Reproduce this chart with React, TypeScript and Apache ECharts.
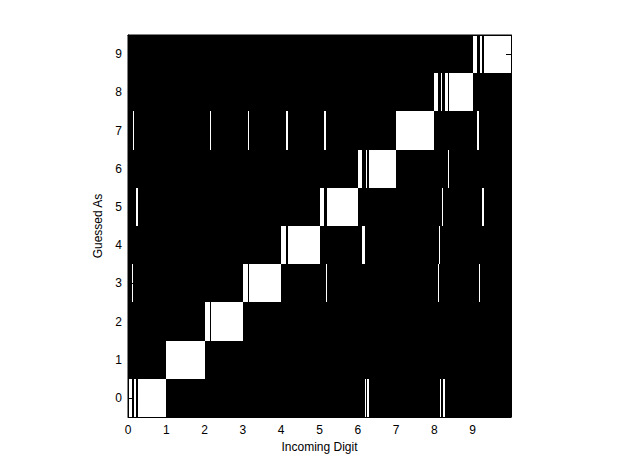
import React, { useEffect, useRef } from "react";
import * as echarts from "echarts";

// Guessed-as categories (rows) and x tick labels
const guessCategories = ["0", "1", "2", "3", "4", "5", "6", "7", "8", "9"];
const xTickLabels = ["0", "1", "2", "3", "4", "5", "6", "7", "8", "9"];
const samplesPerDigit = 38;

// Misclassified samples per incoming digit: [sample index within digit, guessed digit]
const miss0 = [[4, 3], [5, 7], [8, 5], [9, 5]];
const miss1: number[][] = [];
const miss2 = [[5, 7]];
const miss3 = [[5, 7]];
const miss4 = [[5, 7], [6, 7]];
const miss5 = [[4, 7], [5, 7], [6, 3]];
const miss6 = [[4, 4], [5, 4], [6, 4], [7, 0], [9, 0], [10, 0]];
const miss7: number[][] = [];
const miss8 = [[4, 3], [5, 4], [6, 0], [8, 5], [9, 0], [10, 0], [13, 6]];
const miss9 = [[4, 7], [5, 7], [6, 3], [9, 5], [10, 5]];
const misclassified = [miss0, miss1, miss2, miss3, miss4, miss5, miss6, miss7, miss8, miss9];

function buildCells(): number[][] {
  const cells: number[][] = [];
  for (let d = 0; d < 10; d++) {
    for (let k = 0; k < samplesPerDigit; k++) {
      let guess = d;
      for (const m of misclassified[d]) if (m[0] === k) guess = m[1];
      cells.push([d + k / samplesPerDigit, guess]);
    }
  }
  return cells;
}

const FONT = "'Liberation Sans', Arial, Helvetica, sans-serif";

export default function App() {
  const ref = useRef<HTMLDivElement>(null);
  useEffect(() => {
    if (!ref.current) return;
    const chart = echarts.init(ref.current, undefined, { renderer: "svg" });
    const cells = buildCells();
    const labelStyle = { color: "#000", fontSize: 12, fontFamily: FONT };
    const tick = { show: true, inside: true, length: 5, lineStyle: { color: "#000", width: 1 } };
    const line = { show: true, onZero: false, lineStyle: { color: "#000", width: 1 } };
    chart.setOption({
      animation: false,
      backgroundColor: "#fff",
      grid: {
        left: 128,
        top: 35,
        width: 383,
        height: 382,
        show: true,
        backgroundColor: "#000",
        borderColor: "#000",
        borderWidth: 1,
      },
      xAxis: [
        {
          type: "value",
          position: "bottom",
          min: 0,
          max: 10,
          interval: 1,
          z: 10,
          axisLine: line,
          axisTick: tick,
          splitLine: { show: false },
          axisLabel: {
            ...labelStyle,
            margin: 7,
            formatter: (v: number) => (v >= 10 ? "" : xTickLabels[v]),
          },
          name: "Incoming Digit",
          nameLocation: "middle",
          nameGap: 22,
          nameTextStyle: { ...labelStyle },
        },
        {
          type: "value",
          position: "top",
          min: 0,
          max: 10,
          interval: 1,
          z: 10,
          axisLine: line,
          axisTick: tick,
          splitLine: { show: false },
          axisLabel: { show: false },
        },
      ],
      yAxis: [
        {
          type: "category",
          data: guessCategories,
          position: "left",
          z: 10,
          axisLine: line,
          axisTick: { ...tick, alignWithLabel: true, interval: 0 },
          splitLine: { show: false },
          axisLabel: { ...labelStyle, margin: 6, interval: 0 },
          name: "Guessed As",
          nameLocation: "middle",
          nameGap: 20,
          nameTextStyle: { ...labelStyle },
        },
        {
          type: "category",
          data: guessCategories,
          position: "right",
          z: 10,
          axisLine: line,
          axisTick: { ...tick, alignWithLabel: true, interval: 0 },
          splitLine: { show: false },
          axisLabel: { show: false },
        },
      ],
      series: [
        {
          type: "custom",
          xAxisIndex: 0,
          yAxisIndex: 0,
          clip: true,
          encode: { x: 0, y: 1 },
          data: cells,
          renderItem: (params: any, api: any) => {
            const x0 = api.value(0);
            const row = api.value(1);
            const p0 = api.coord([x0, row]);
            const p1 = api.coord([x0 + 1 / samplesPerDigit, row]);
            const h = api.size([0, 1])[1];
            const left = Math.round(p0[0]);
            const right = Math.round(p1[0]);
            const top = Math.round(p0[1] - h / 2);
            const bottom = Math.round(p0[1] + h / 2);
            return {
              type: "rect",
              shape: { x: left, y: top, width: right - left, height: bottom - top },
              style: { fill: "#fff" },
            };
          },
        },
      ],
    });
    return () => chart.dispose();
  }, []);
  return (
    <div
      ref={ref}
      style={{ position: "fixed", left: 0, top: 0, width: 618, height: 468, background: "#fff" }}
    />
  );
}
